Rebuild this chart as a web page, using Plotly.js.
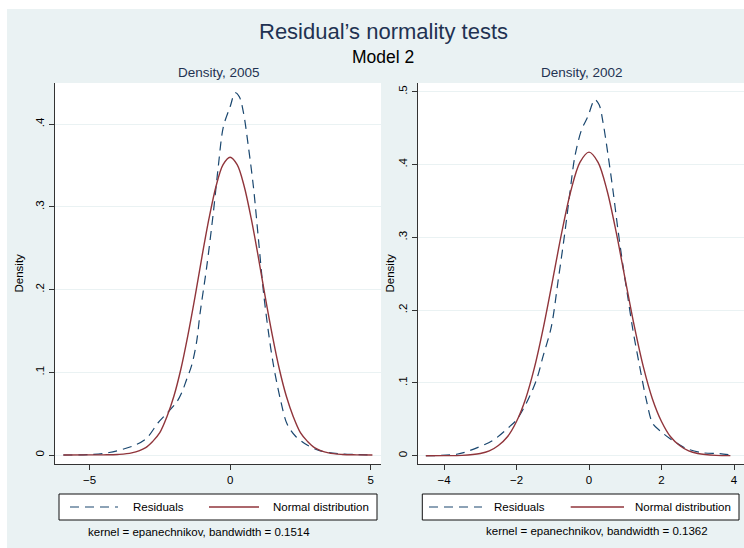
<!DOCTYPE html>
<html>
<head>
<meta charset="utf-8">
<script src="https://cdn.plot.ly/plotly-3.0.1.min.js"></script>
<style>
html,body{margin:0;padding:0;background:#ffffff;width:744px;height:548px;overflow:hidden;}
#chart{position:absolute;left:7px;top:9px;width:737px;height:539px;}
</style>
</head>
<body>
<div id="chart"></div>
<script>
// ---- data ----
const resid2005X = [-5.93, -5.0, -4.3, -3.45, -2.98, -2.56, -2.26, -1.9, -1.7, -1.55, -1.37, -1.19, -1.07, -0.83, -0.6, -0.42, -0.24, 0.0, 0.18, 0.33, 0.48, 0.65, 0.83, 1.01, 1.19, 1.37, 1.55, 1.79, 2.02, 2.32, 2.74, 3.21, 3.93, 5.06];
const resid2005Y = [0, 0.0005, 0.003, 0.011, 0.020, 0.039, 0.050, 0.064, 0.077, 0.091, 0.108, 0.137, 0.171, 0.228, 0.292, 0.349, 0.397, 0.421, 0.438, 0.433, 0.413, 0.373, 0.324, 0.260, 0.196, 0.147, 0.107, 0.067, 0.038, 0.023, 0.012, 0.005, 0.0015, 0];
const normal2005X = [-5.93, -5.0, -4.5, -4.0, -3.5, -3.0, -2.75, -2.5, -2.25, -2.0, -1.75, -1.5, -1.25, -1.0, -0.75, -0.5, -0.25, 0.0, 0.25, 0.5, 0.75, 1.0, 1.25, 1.5, 1.75, 2.0, 2.25, 2.5, 2.75, 3.0, 3.5, 4.0, 4.5, 5.06];
const normal2005Y = [0, 0.0001, 0.0002, 0.0006, 0.0025, 0.009, 0.0165, 0.027, 0.046, 0.071, 0.104, 0.145, 0.191, 0.240, 0.286, 0.325, 0.351, 0.360, 0.351, 0.325, 0.286, 0.240, 0.191, 0.145, 0.104, 0.071, 0.046, 0.027, 0.0165, 0.009, 0.0025, 0.0006, 0.0002, 0];

const resid2002X = [-4.5, -3.65, -3.29, -2.64, -2.19, -2.0, -1.73, -1.45, -1.27, -1.04, -0.85, -0.67, -0.53, -0.39, -0.21, -0.03, 0.16, 0.28, 0.39, 0.52, 0.66, 0.80, 0.94, 1.07, 1.21, 1.40, 1.58, 1.76, 1.99, 2.22, 2.68, 3.14, 3.6, 3.9];
const resid2002Y = [0, 0.002, 0.007, 0.0215, 0.040, 0.049, 0.072, 0.104, 0.136, 0.177, 0.241, 0.305, 0.360, 0.411, 0.447, 0.466, 0.489, 0.482, 0.457, 0.415, 0.365, 0.310, 0.260, 0.218, 0.173, 0.122, 0.077, 0.044, 0.033, 0.024, 0.010, 0.004, 0.003, 0.001];
const normal2002X = [-4.5, -4.0, -3.5, -3.0, -2.75, -2.5, -2.25, -2.0, -1.75, -1.5, -1.25, -1.0, -0.75, -0.5, -0.25, 0.0, 0.25, 0.5, 0.75, 1.0, 1.25, 1.5, 1.75, 2.0, 2.25, 2.5, 2.75, 3.0, 3.5, 3.9];
const normal2002Y = [0, 0.0001, 0.0005, 0.003, 0.0065, 0.014, 0.026, 0.047, 0.078, 0.122, 0.178, 0.242, 0.307, 0.364, 0.403, 0.417, 0.403, 0.364, 0.307, 0.242, 0.178, 0.122, 0.078, 0.047, 0.026, 0.014, 0.0065, 0.003, 0.0005, 0.0001];

const xTicks2005 = [-5, 0, 5];
const xTickText2005 = ['\u22125', '0', '5'];
const yTicks2005 = [0, 0.1, 0.2, 0.3, 0.4];
const yTickText2005 = ['0', '.1', '.2', '.3', '.4'];
const xTicks2002 = [-4, -2, 0, 2, 4];
const xTickText2002 = ['\u22124', '\u22122', '0', '2', '4'];
const yTicks2002 = [0, 0.1, 0.2, 0.3, 0.4, 0.5];
const yTickText2002 = ['0', '.1', '.2', '.3', '.4', '.5'];

const seriesNames = ['Residuals', 'Normal distribution'];
const panelTitles = ['Density, 2005', 'Density, 2002'];
const notes = ['kernel = epanechnikov, bandwidth = 0.1514', 'kernel = epanechnikov, bandwidth = 0.1362'];

// ---- styling ----
const FONT = 'Liberation Sans, Arial, Helvetica, sans-serif';
const NAVY = '#1a476f';
const MAROON = '#90353b';
const BG = '#eaf2f3';
const AX = '#333333';
const W = 737, H = 539, OX = 7, OY = 9;
const px = X => (X - OX) / W;
const py = Y => (H - (Y - OY)) / H;

const residLine = {color: NAVY, width: 1.2, dash: '9px,6px', shape: 'spline', smoothing: 0.9};
const normalLine = {color: MAROON, width: 1.4, shape: 'spline', smoothing: 0.9};

const traces = [
  {x: resid2005X, y: resid2005Y, type: 'scatter', mode: 'lines', line: residLine, xaxis: 'x', yaxis: 'y', name: seriesNames[0], showlegend: false, hoverinfo: 'skip'},
  {x: normal2005X, y: normal2005Y, type: 'scatter', mode: 'lines', line: normalLine, xaxis: 'x', yaxis: 'y', name: seriesNames[1], showlegend: false, hoverinfo: 'skip'},
  {x: resid2002X, y: resid2002Y, type: 'scatter', mode: 'lines', line: residLine, xaxis: 'x2', yaxis: 'y2', name: seriesNames[0], showlegend: false, hoverinfo: 'skip'},
  {x: normal2002X, y: normal2002Y, type: 'scatter', mode: 'lines', line: normalLine, xaxis: 'x2', yaxis: 'y2', name: seriesNames[1], showlegend: false, hoverinfo: 'skip'}
];

const tickFont = {family: FONT, size: 11.5, color: '#000'};
function xAxis(dom, range, vals, text, anchor) {
  return {domain: dom, range: range, anchor: anchor, tickmode: 'array', tickvals: vals, ticktext: text,
    ticks: 'outside', ticklen: 5, tickwidth: 1, tickcolor: AX, showline: true, linecolor: AX, linewidth: 1,
    showgrid: false, zeroline: false, tickfont: tickFont, fixedrange: true};
}
function yAxis(dom, range, vals, text, anchor) {
  return {domain: dom, range: range, anchor: anchor, tickmode: 'array', tickvals: vals, ticktext: text,
    tickangle: -90, ticks: 'outside', ticklen: 5, tickwidth: 1, tickcolor: AX, showline: true, linecolor: AX, linewidth: 1,
    showgrid: true, gridcolor: BG, gridwidth: 1, zeroline: false, tickfont: tickFont, fixedrange: true};
}

const yDom = [py(464), py(83)];
const layout = {
  width: W, height: H,
  margin: {l: 0, r: 0, t: 0, b: 0, pad: 0},
  paper_bgcolor: BG, plot_bgcolor: '#ffffff',
  showlegend: false,
  font: {family: FONT, color: '#000'},
  xaxis: xAxis([px(55), px(381)], [-6.227, 5.366], xTicks2005, xTickText2005, 'y'),
  yaxis: yAxis(yDom, [-0.01088, 0.4498], yTicks2005, yTickText2005, 'x'),
  xaxis2: xAxis([px(417.5), 1], [-4.731, 4.276], xTicks2002, xTickText2002, 'y2'),
  yaxis2: yAxis(yDom, [-0.0114, 0.512], yTicks2002, yTickText2002, 'x2'),
  shapes: [],
  annotations: []
};

const A = layout.annotations, S = layout.shapes;
function note(text, X, Y, size, color, opts) {
  A.push(Object.assign({text: text, x: px(X), y: py(Y), xref: 'paper', yref: 'paper', showarrow: false,
    xanchor: 'center', yanchor: 'middle', font: {family: FONT, size: size, color: color}, borderpad: 0}, opts || {}));
}
note('Residual\u2019s normality tests', 383.5, 32, 22, '#1f3252');
note('Model 2', 383, 57, 17.5, '#000');
note(panelTitles[0], 219, 73, 13.5, '#1f3252');
note(panelTitles[1], 582, 73, 13.5, '#1f3252');
note('Density', 18, 273.5, 11.5, '#000', {textangle: -90});
note('Density', 389, 273.5, 11.5, '#000', {textangle: -90});

// legends
const legends = [
  {box: [59, 377], dash: [70, 118], t1: 131.7, red: [209, 259], t2: 272, noteX: 199, noteY: 532, noteText: notes[0]},
  {box: [422.3, 739], dash: [429, 482], t1: 493, red: [570.7, 624], t2: 634, noteX: 596.5, noteY: 530.7, noteText: notes[1]}
];
legends.forEach(L => {
  S.push({type: 'rect', xref: 'paper', yref: 'paper', x0: px(L.box[0]), x1: px(L.box[1]), y0: py(520), y1: py(494),
    fillcolor: '#ffffff', line: {color: '#111', width: 1}});
  S.push({type: 'line', xref: 'paper', yref: 'paper', x0: px(L.dash[0]), x1: px(L.dash[1]), y0: py(507), y1: py(507),
    line: {color: NAVY, width: 1.2, dash: '9px,6px'}});
  S.push({type: 'line', xref: 'paper', yref: 'paper', x0: px(L.red[0]), x1: px(L.red[1]), y0: py(507), y1: py(507),
    line: {color: MAROON, width: 1.4}});
  note(seriesNames[0], L.t1, 507, 11.5, '#000', {xanchor: 'left'});
  note(seriesNames[1], L.t2, 507, 11.5, '#000', {xanchor: 'left'});
  note(L.noteText, L.noteX, L.noteY, 11.5, '#000');
});

Plotly.newPlot('chart', traces, layout, {displayModeBar: false, staticPlot: true});
</script>
</body>
</html>
